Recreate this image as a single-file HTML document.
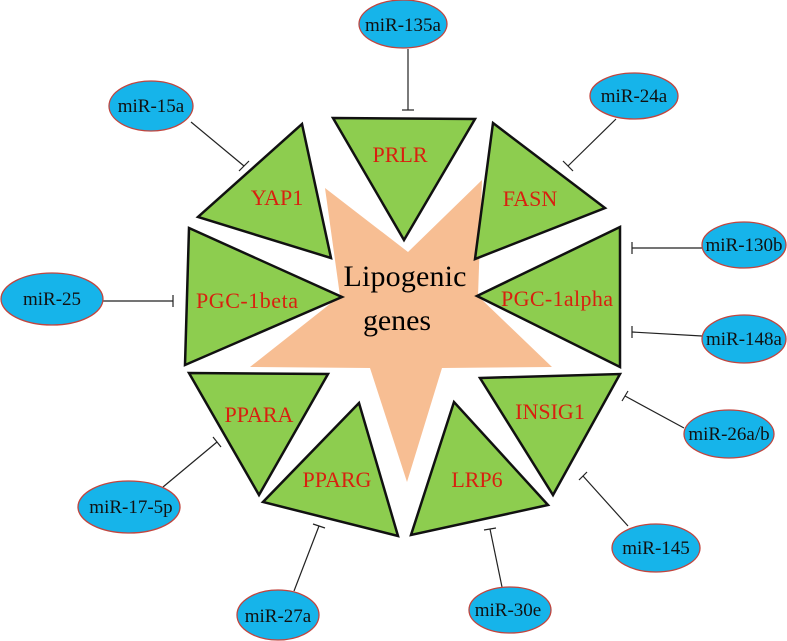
<!DOCTYPE html>
<html><head><meta charset="utf-8"><style>html,body{margin:0;padding:0;background:#fff}svg{display:block}</style></head>
<body>
<svg width="787" height="641" viewBox="0 0 787 641" xmlns="http://www.w3.org/2000/svg">
<polygon points="325,188 408,252 482,180 478,296 552,367 442,368 407,482 370,368 250,367 340,296" fill="#f7be93"/>
<g fill="#8dcd4f" stroke="#111" stroke-width="2.5" stroke-linejoin="miter">
<polygon points="333,118 475,119 404,240"/>
<polygon points="302,124 198,217 331,258"/>
<polygon points="493,123 605,208 475,259"/>
<polygon points="189,228 342,297 185,365"/>
<polygon points="620,227 477,296 620,367"/>
<polygon points="189,373 328,374 259,495"/>
<polygon points="359,403 263,502 398,536"/>
<polygon points="454,402 411,535 548,505"/>
<polygon points="480,378 620,374 553,495"/>
</g>
<g font-family="Liberation Serif, serif" fill="#d8200f" font-size="22" text-anchor="middle">
<text x="400" y="162">PRLR</text>
<text x="277" y="205">YAP1</text>
<text x="530" y="206">FASN</text>
<text x="247" y="308" textLength="102">PGC-1beta</text>
<text x="557" y="306" textLength="112">PGC-1alpha</text>
<text x="259" y="422">PPARA</text>
<text x="337" y="487">PPARG</text>
<text x="477" y="487">LRP6</text>
<text x="550" y="419">INSIG1</text>
</g>
<g font-family="Liberation Serif, serif" fill="#000" font-size="30" text-anchor="middle">
<text x="405" y="286" textLength="123">Lipogenic</text>
<text x="397" y="330" textLength="68">genes</text>
</g>
<g stroke="#222" stroke-width="1.2">
<line x1="408" y1="49" x2="408" y2="110"/><line x1="402" y1="110" x2="414" y2="110"/>
<line x1="191" y1="122" x2="244" y2="166"/><line x1="239" y1="171" x2="249" y2="161"/>
<line x1="616" y1="119" x2="568" y2="166"/><line x1="563" y1="161" x2="573" y2="171"/>
<line x1="702" y1="248" x2="632" y2="248"/><line x1="632" y1="242" x2="632" y2="254"/>
<line x1="103" y1="301" x2="173" y2="301"/><line x1="173" y1="295" x2="173" y2="307"/>
<line x1="702" y1="336" x2="632" y2="332"/><line x1="632" y1="326" x2="632" y2="338"/>
<line x1="684" y1="428" x2="625" y2="396"/><line x1="622" y1="401" x2="628" y2="391"/>
<line x1="163" y1="487" x2="217" y2="442"/><line x1="213" y1="437" x2="221" y2="447"/>
<line x1="628" y1="526" x2="583" y2="476"/><line x1="579" y1="480" x2="587" y2="472"/>
<line x1="294" y1="591" x2="319" y2="526"/><line x1="313" y1="524" x2="325" y2="528"/>
<line x1="502" y1="587" x2="490" y2="529"/><line x1="484" y1="530" x2="496" y2="528"/>
</g>
<g fill="#16b4ea" stroke="#c2453e" stroke-width="1.3">
<ellipse cx="403" cy="24" rx="44" ry="24"/>
<ellipse cx="151" cy="106" rx="42" ry="25"/>
<ellipse cx="634" cy="96" rx="44" ry="23"/>
<ellipse cx="744" cy="245" rx="42" ry="23"/>
<ellipse cx="52" cy="299" rx="51" ry="26"/>
<ellipse cx="744" cy="339" rx="42" ry="24"/>
<ellipse cx="729" cy="434" rx="45" ry="24"/>
<ellipse cx="129" cy="507" rx="51" ry="26"/>
<ellipse cx="656" cy="548" rx="44" ry="24"/>
<ellipse cx="278" cy="615" rx="41" ry="25"/>
<ellipse cx="510" cy="610" rx="41" ry="23"/>
</g>
<g font-family="Liberation Serif, serif" fill="#111" font-size="19" text-anchor="middle">
<text x="403" y="31">miR-135a</text>
<text x="151" y="112">miR-15a</text>
<text x="634" y="102">miR-24a</text>
<text x="744" y="251">miR-130b</text>
<text x="52" y="305">miR-25</text>
<text x="744" y="345">miR-148a</text>
<text x="729" y="440">miR-26a/b</text>
<text x="131" y="513">miR-17-5p</text>
<text x="656" y="554">miR-145</text>
<text x="278" y="622">miR-27a</text>
<text x="508" y="616">miR-30e</text>
</g>
</svg>
</body></html>
